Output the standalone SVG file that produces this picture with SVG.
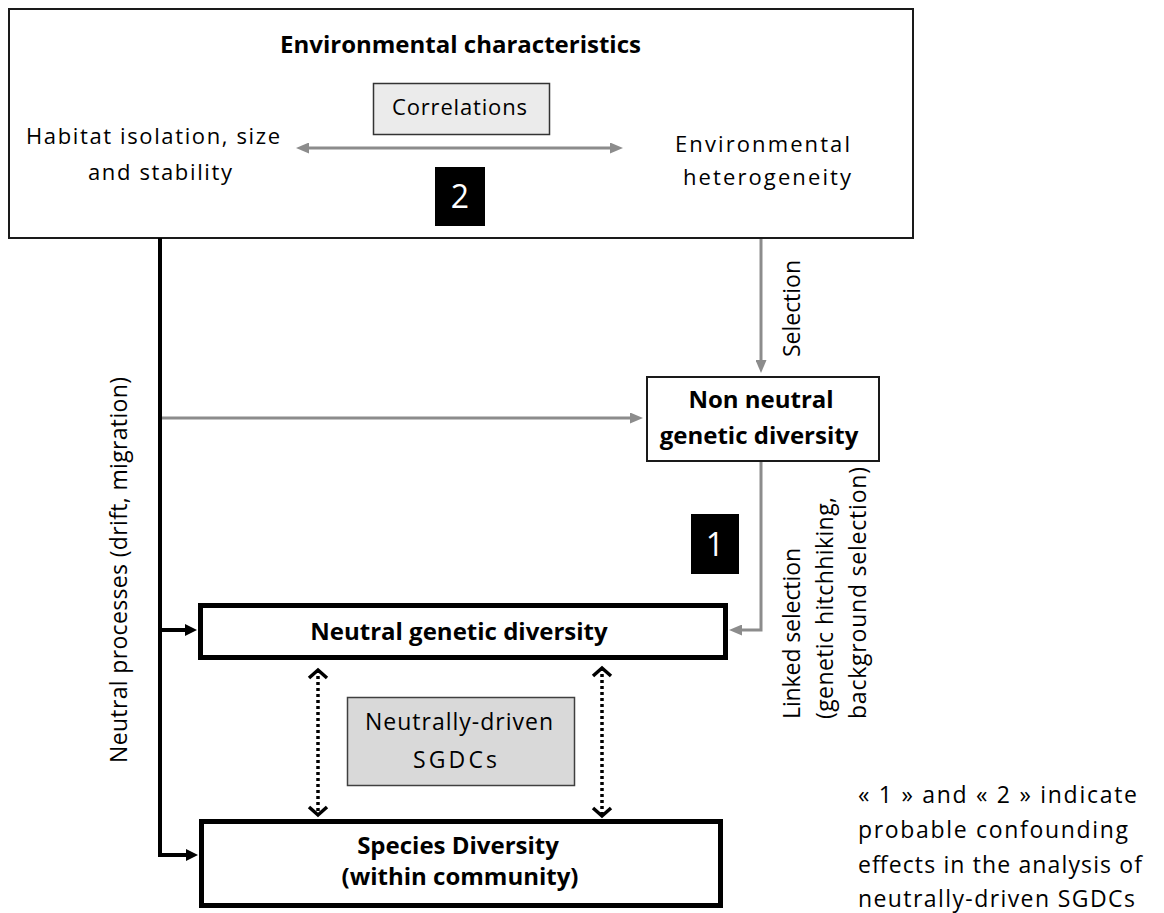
<svg xmlns="http://www.w3.org/2000/svg" width="1164" height="913" viewBox="0 0 1164 913">
<style>
  .reg { font-family: "Open Sans", "Liberation Sans", sans-serif; font-size: 22px; fill: #000; }
  .bold { font-family: "Open Sans", "Liberation Sans", sans-serif; font-size: 24px; font-weight: bold; fill: #000; }
  .num { font-family: "Open Sans", "Liberation Sans", sans-serif; font-size: 32px; fill: #fff; }
  .thin { fill: #fff; stroke: #1a1a1a; stroke-width: 2; }
  .thick { fill: #fff; stroke: #000; stroke-width: 5; }
  .grayln { fill: none; stroke: #8c8c8c; stroke-width: 3; }
  .blackln { fill: none; stroke: #000; stroke-width: 4; }
  .dotln { fill: none; stroke: #000; stroke-width: 3.5; stroke-dasharray: 3 3; }
</style>
<defs>
  <marker id="ag" viewBox="0 0 13 11" refX="5" refY="5.5" markerWidth="13" markerHeight="11" markerUnits="userSpaceOnUse" orient="auto-start-reverse">
    <path d="M0,0 L13,5.5 L0,11 z" fill="#8c8c8c"/>
  </marker>
  <marker id="ab" viewBox="0 0 12 12" refX="4" refY="6" markerWidth="12" markerHeight="12" markerUnits="userSpaceOnUse" orient="auto-start-reverse">
    <path d="M0,0 L12,6 L0,12 z" fill="#000"/>
  </marker>
  <marker id="chev" viewBox="-11 -11 13 22" refX="0" refY="0" markerWidth="13" markerHeight="22" markerUnits="userSpaceOnUse" orient="auto-start-reverse" overflow="visible">
    <path d="M-8,-9 L0,0 L-8,9" fill="none" stroke="#000" stroke-width="3.5"/>
  </marker>
</defs>
<rect width="1164" height="913" fill="#fff"/>

<g id="env">
  <rect class="thin" x="9" y="9" width="904" height="229"/>
  <text class="bold" x="460.5" y="53" text-anchor="middle">Environmental characteristics</text>
  <text class="reg" x="26" y="144" textLength="254">Habitat isolation, size</text>
  <text class="reg" x="88" y="180" textLength="144">and stability</text>
  <text class="reg" x="675" y="152" textLength="175">Environmental</text>
  <text class="reg" x="683" y="185" textLength="168">heterogeneity</text>
</g>

<g id="correlations">
  <rect x="373.5" y="83.5" width="176" height="51" fill="#ebebeb" stroke="#333" stroke-width="1.5"/>
  <text class="reg" x="392" y="115" textLength="135">Correlations</text>
</g>

<g id="label2">
  <rect x="435" y="167" width="50" height="59" fill="#000"/>
  <text class="num" x="460" y="208" text-anchor="middle">2</text>
</g>

<g id="nonneutral">
  <rect class="thin" x="647" y="377" width="232" height="84"/>
  <text class="bold" x="761" y="408" text-anchor="middle">Non neutral</text>
  <text class="bold" x="759" y="444" text-anchor="middle">genetic diversity</text>
</g>

<g id="label1">
  <rect x="691" y="514" width="48" height="60" fill="#000"/>
  <text class="num" x="715" y="556" text-anchor="middle">1</text>
</g>

<g id="neutral">
  <rect class="thick" x="200.5" y="605.5" width="525" height="52"/>
  <text class="bold" x="459" y="640" text-anchor="middle">Neutral genetic diversity</text>
</g>

<g id="sgdc">
  <rect x="347.5" y="697.5" width="227" height="88" fill="#d9d9d9" stroke="#404040" stroke-width="1.5"/>
  <text class="reg" x="459" y="730" text-anchor="middle" style="font-size:23px" textLength="188">Neutrally-driven</text>
  <text class="reg" x="455" y="768" text-anchor="middle" style="font-size:23px" textLength="84">SGDCs</text>
</g>

<g id="species">
  <rect class="thick" x="201.5" y="821.5" width="519" height="84"/>
  <text class="bold" x="458" y="854" text-anchor="middle">Species Diversity</text>
  <text class="bold" x="460" y="885" text-anchor="middle">(within community)</text>
</g>

<g id="connectors">
  <path class="grayln" d="M304,148 H615" marker-start="url(#ag)" marker-end="url(#ag)"/>
  <path class="blackln" d="M160,238 V855 H190" marker-end="url(#ab)"/>
  <path class="blackln" d="M160,630 H189" marker-end="url(#ab)"/>
  <path class="grayln" d="M162,418 H635" marker-end="url(#ag)"/>
  <path class="grayln" d="M761,239 V365" marker-end="url(#ag)"/>
  <path class="grayln" d="M761,462 V630 H737" marker-end="url(#ag)"/>
  <path class="dotln" d="M318,670 V815" marker-start="url(#chev)" marker-end="url(#chev)"/>
  <path class="dotln" d="M602,668 V816" marker-start="url(#chev)" marker-end="url(#chev)"/>
</g>

<g id="connector-labels">
  <text class="reg" transform="translate(127,570) rotate(-90)" text-anchor="middle" style="font-size:23px" textLength="386">Neutral processes (drift, migration)</text>
  <text class="reg" transform="translate(800,308.5) rotate(-90)" text-anchor="middle" style="font-size:23px" textLength="97">Selection</text>
  <text class="reg" transform="translate(800,719) rotate(-90)" style="font-size:23px" textLength="171">Linked selection</text>
  <text class="reg" transform="translate(833,719) rotate(-90)" style="font-size:23px" textLength="222">(genetic hitchhiking,</text>
  <text class="reg" transform="translate(866,719) rotate(-90)" style="font-size:23px" textLength="252">background selection)</text>
</g>

<g id="note">
  <text class="reg" x="858" y="803" style="font-size:23px" textLength="279">« 1 » and « 2 » indicate</text>
  <text class="reg" x="858" y="838" style="font-size:23px" textLength="270">probable confounding</text>
  <text class="reg" x="858" y="873" style="font-size:23px" textLength="284">effects in the analysis of</text>
  <text class="reg" x="858" y="907" style="font-size:23px" textLength="277">neutrally-driven SGDCs</text>
</g>
</svg>
